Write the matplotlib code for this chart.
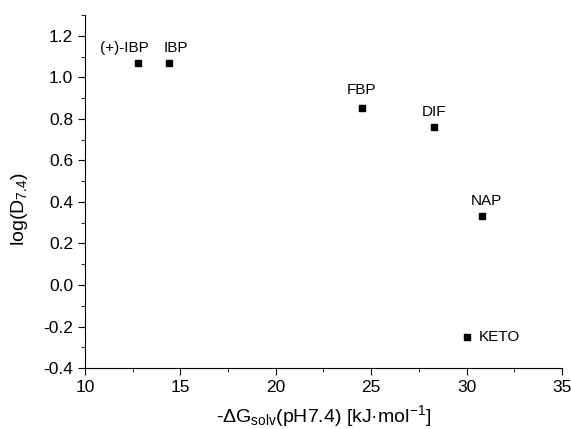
import matplotlib
matplotlib.use("Agg")
import matplotlib.pyplot as plt
from matplotlib.ticker import MultipleLocator

plt.rcParams['font.family'] = ['Liberation Sans', 'DejaVu Sans']
plt.rcParams['mathtext.fontset'] = 'custom'
plt.rcParams['mathtext.rm'] = 'Liberation Sans'
plt.rcParams['mathtext.it'] = 'Liberation Sans:italic'
plt.rcParams['mathtext.bf'] = 'Liberation Sans:bold'

names = ["(+)-IBP", "IBP", "FBP", "DIF", "NAP", "KETO"]
dg = [12.8, 14.4, 24.5, 28.3, 30.8, 30.0]
logd = [1.07, 1.07, 0.85, 0.76, 0.33, -0.25]
# label offsets (points)
offs = [(-10, 11), (5, 11), (0, 13), (0, 11), (3, 11), (24, 0)]

fig = plt.figure(figsize=(5.71, 4.29), dpi=100)
ax = fig.add_axes([0.149, 0.142, 0.835, 0.823])
ax.scatter(dg, logd, marker='s', s=24, color='black', zorder=3)
for n, x, y, o in zip(names, dg, logd, offs):
    ax.annotate(n, (x, y), xytext=o, textcoords='offset points',
                ha='center', va='center', fontsize=11)

ax.set_xlim(10, 35)
ax.set_ylim(-0.4, 1.3)
ax.xaxis.set_major_locator(MultipleLocator(5))
ax.xaxis.set_minor_locator(MultipleLocator(2.5))
ax.yaxis.set_major_locator(MultipleLocator(0.2))
ax.yaxis.set_minor_locator(MultipleLocator(0.1))
ax.yaxis.set_major_formatter(plt.FuncFormatter(lambda v, p: f"{v:.1f}"))
ax.spines['top'].set_visible(False)
ax.spines['right'].set_visible(False)
ax.tick_params(which='major', direction='out', length=5, labelsize=12.5)
ax.tick_params(which='minor', direction='out', length=3)
ax.set_xlabel("-ΔG$_{\\mathregular{solv}}$(pH7.4) [kJ·mol$^{\\mathregular{-1}}$]", fontsize=14, labelpad=6)
ax.set_ylabel("log(D$_{\\mathregular{7.4}}$)", fontsize=14)
ax.yaxis.set_label_coords(-0.115, 0.45)
fig.savefig("out.png", dpi=100)
